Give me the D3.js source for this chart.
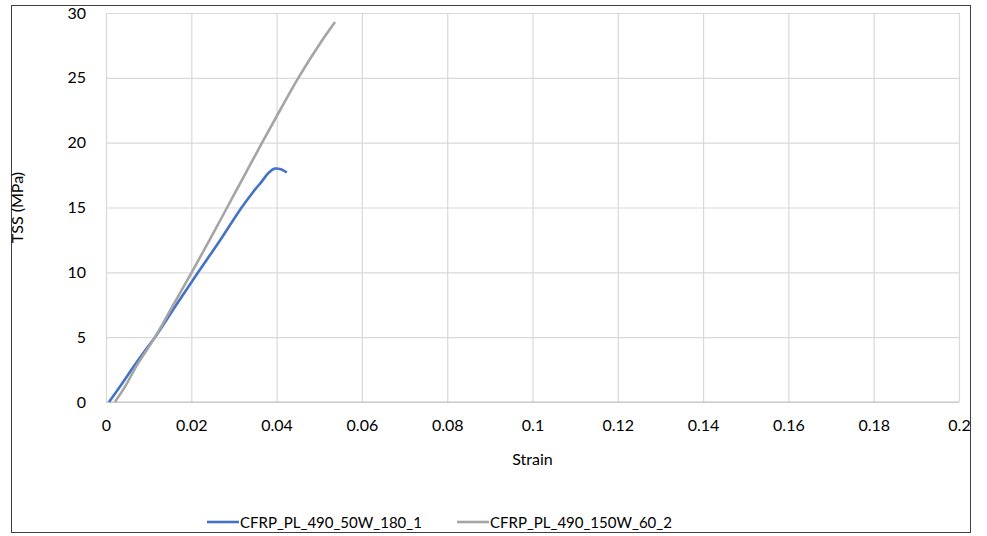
<!DOCTYPE html>
<html>
<head>
<meta charset="utf-8">
<script src="https://cdn.jsdelivr.net/npm/d3@7"></script>
<style>
  body { margin: 0; background: #fff; }
  svg { font-family: Lato, "Open Sans", sans-serif; }
</style>
</head>
<body>
<div id="chart"></div>
<script>
// series: [strain, TSS]
var seriesNames = ['CFRP_PL_490_50W_180_1', 'CFRP_PL_490_150W_60_2'];
var seriesColors = ['#4472C4', '#A5A5A5'];

var blueStrain = [0.0007, 0.0035, 0.0064, 0.009, 0.0115, 0.0165, 0.0216, 0.0268, 0.0318, 0.0345, 0.0365, 0.0382, 0.0396, 0.041, 0.0424];
var blueTss    = [0,      1.3,    2.7,    3.9,   5.0,    7.5,    10.0,   12.5,   15.0,   16.2,   17.0,   17.7,   18.0,   17.95, 17.7];

var grayStrain = [0.0021, 0.0045, 0.007, 0.0115, 0.0158, 0.0201, 0.0243, 0.0284, 0.0325, 0.0366, 0.0408, 0.0451, 0.0503, 0.0537];
var grayTss    = [0,      1.2,    2.7,   5.0,    7.5,    10.0,   12.5,   15.0,   17.5,   20.0,   22.5,   25.0,   27.7,   29.3];

var xTicks = [0, 0.02, 0.04, 0.06, 0.08, 0.1, 0.12, 0.14, 0.16, 0.18, 0.2];
var yTicks = [0, 5, 10, 15, 20, 25, 30];

var W = 987, H = 536;
var margin = {top: 13, right: 28, bottom: 134, left: 106};
var width = W - margin.left - margin.right,
    height = H - margin.top - margin.bottom;

var svg = d3.select('#chart').append('svg')
    .attr('width', W)
    .attr('height', H);

// outer frame
svg.append('rect')
    .attr('x', 11.5).attr('y', 5.5)
    .attr('width', 959).attr('height', 527)
    .attr('fill', '#fff')
    .attr('stroke', '#404040')
    .attr('stroke-width', 1);

var x = d3.scaleLinear().domain([0, 0.2]).range([0, width]);
var y = d3.scaleLinear().domain([0, 30]).range([height, 0]);

var g = svg.append('g')
    .attr('transform', 'translate(' + margin.left + ',' + margin.top + ')');

// grid
g.append('g')
    .attr('class', 'grid-y')
    .call(d3.axisLeft(y).tickValues(yTicks).tickSize(-width).tickFormat(''))
    .call(a => a.select('.domain').remove())
    .selectAll('line').attr('stroke', '#d9d9d9').attr('stroke-width', 1.2);

g.append('g')
    .attr('class', 'grid-x')
    .attr('transform', 'translate(0,' + height + ')')
    .call(d3.axisBottom(x).tickValues(xTicks).tickSize(-height).tickFormat(''))
    .call(a => a.select('.domain').remove())
    .selectAll('line').attr('stroke', '#d9d9d9').attr('stroke-width', 1.2);

// bottom axis line
g.append('line')
    .attr('x1', 0).attr('x2', width)
    .attr('y1', height).attr('y2', height)
    .attr('stroke', '#bfbfbf').attr('stroke-width', 1.2);

// tick labels
var yAxis = g.append('g')
    .call(d3.axisLeft(y).tickValues(yTicks).tickSize(0).tickPadding(20).tickFormat(d3.format('d')));
yAxis.select('.domain').remove();
yAxis.selectAll('text').attr('font-size', '16px').attr('fill', '#000')
    .attr('font-family', 'Lato, "Open Sans", sans-serif');

var xAxis = g.append('g')
    .attr('transform', 'translate(0,' + height + ')')
    .call(d3.axisBottom(x).tickValues(xTicks).tickSize(0).tickPadding(18)
        .tickFormat(d => d === 0 ? '0' : String(+d.toFixed(2))));
xAxis.select('.domain').remove();
xAxis.selectAll('text').attr('font-size', '16px').attr('fill', '#000')
    .attr('font-family', 'Lato, "Open Sans", sans-serif');

// axis titles
svg.append('text')
    .attr('x', margin.left + width / 2)
    .attr('y', 465)
    .attr('text-anchor', 'middle')
    .attr('font-size', '16px')
    .text('Strain');

svg.append('text')
    .attr('transform', 'translate(23,' + (margin.top + height / 2) + ') rotate(-90)')
    .attr('text-anchor', 'middle')
    .attr('font-size', '16px')
    .text('TSS (MPa)');

// lines
var series = [
    blueStrain.map((s, i) => ({s: s, t: blueTss[i]})),
    grayStrain.map((s, i) => ({s: s, t: grayTss[i]}))
];

var line = d3.line()
    .curve(d3.curveCatmullRom)
    .x(d => x(d.s))
    .y(d => y(d.t));

g.selectAll('.series')
    .data(series)
    .enter().append('path')
    .attr('class', 'series')
    .attr('fill', 'none')
    .attr('stroke', (d, i) => seriesColors[i])
    .attr('stroke-width', 2.6)
    .attr('stroke-linejoin', 'round')
    .attr('d', d => line(d));

// legend
var legendX = [207, 457];
var leg = svg.selectAll('.legend')
    .data(seriesNames)
    .enter().append('g')
    .attr('class', 'legend')
    .attr('transform', (d, i) => 'translate(' + legendX[i] + ',522)');

leg.append('line')
    .attr('x1', 0).attr('x2', 32)
    .attr('y1', 0).attr('y2', 0)
    .attr('stroke', (d, i) => seriesColors[i])
    .attr('stroke-width', 2.6);

leg.append('text')
    .attr('x', 33)
    .attr('y', 6)
    .attr('font-size', '15px')
    .text(d => d);
</script>
</body>
</html>
